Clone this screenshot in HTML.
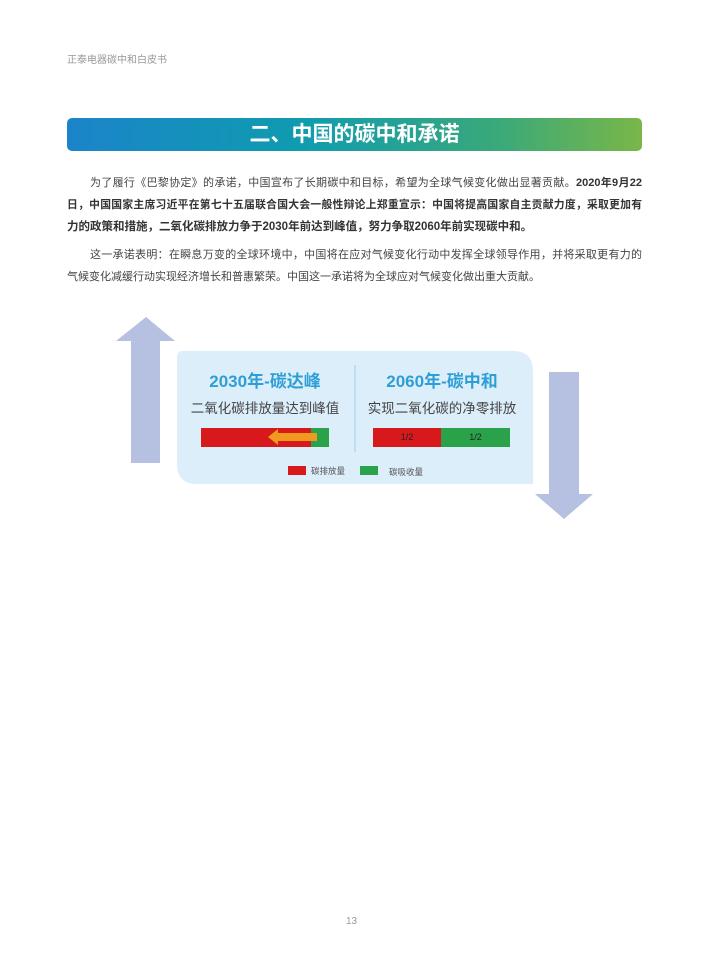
<!DOCTYPE html>
<html><head><meta charset="utf-8"><style>
body{margin:0;width:710px;height:963px;background:#fff;position:relative;font-family:"Liberation Sans","Noto Sans CJK SC",sans-serif;overflow:hidden}
.a{position:absolute}
.ln{position:absolute;left:67px;width:575px;font-size:11px;color:#444;text-align:justify;text-align-last:justify;white-space:nowrap;line-height:16px}
.b{font-weight:bold;color:#333}
</style></head><body>
<div class="a" style="left:67px;top:51px;font-size:10px;color:#999">正泰电器碳中和白皮书</div>
<div class="a" style="left:67px;top:118px;width:575px;height:33px;border-radius:5px;background:linear-gradient(90deg,#1b84c9 0%,#0f9bb0 40%,#3aa97a 75%,#7ab648 100%);color:#fff;font-size:21px;font-weight:bold;text-align:center;line-height:33px">二、中国的碳中和承诺</div>
<div class="ln" style="top:175px;left:90px;width:552px">为了履行《巴黎协定》的承诺，中国宣布了长期碳中和目标，希望为全球气候变化做出显著贡献。<span class="b">2020年9月22</span></div>
<div class="ln b" style="top:197px;font-size:10.8px">日，中国国家主席习近平在第七十五届联合国大会一般性辩论上郑重宣示：中国将提高国家自主贡献力度，采取更加有</div>
<div class="ln b" style="top:219px;text-align-last:left;font-size:11.5px">力的政策和措施，二氧化碳排放力争于2030年前达到峰值，努力争取2060年前实现碳中和。</div>
<div class="ln" style="top:247px;left:90px;width:552px">这一承诺表明：在瞬息万变的全球环境中，中国将在应对气候变化行动中发挥全球领导作用，并将采取更有力的</div>
<div class="ln" style="top:269px;text-align-last:left;font-size:11px">气候变化减缓行动实现经济增长和普惠繁荣。中国这一承诺将为全球应对气候变化做出重大贡献。</div>
<svg class="a" style="left:0;top:0" width="710" height="963">
<polygon points="146,317 175,341 160,341 160,463 131,463 131,341 116,341" fill="#b6c1e1"/>
<polygon points="549,372 579,372 579,494 593,494 564,519 535,494 549,494" fill="#b6c1e1"/>
<path d="M183,351 H513 Q533,351 533,371 V484 H197 Q177,484 177,464 V357 Q177,351 183,351 Z" fill="#dceefa"/>
<line x1="355" y1="365" x2="355" y2="452" stroke="#b8d8ee" stroke-width="1.5"/>
<rect x="201" y="428" width="110" height="19" fill="#d7191c"/>
<rect x="311" y="428" width="18" height="19" fill="#2aa24a"/>
<polygon points="268,437 278,429 278,433 317,433 317,441 278,441 278,445" fill="#ef9a1f"/>
<rect x="373" y="428" width="68" height="19" fill="#d7191c"/>
<rect x="441" y="428" width="69" height="19" fill="#2aa24a"/>
<rect x="288" y="466" width="18" height="9" fill="#d7191c"/>
<rect x="360" y="466" width="18" height="9" fill="#2aa24a"/>
</svg>
<div class="a" style="left:185px;top:367px;width:160px;text-align:center;font-size:17px;font-weight:bold;color:#2e9fd6">2030年-碳达峰</div>
<div class="a" style="left:185px;top:397px;width:160px;text-align:center;font-size:13.5px;color:#444">二氧化碳排放量达到峰值</div>
<div class="a" style="left:362px;top:367px;width:160px;text-align:center;font-size:17px;font-weight:bold;color:#2e9fd6">2060年-碳中和</div>
<div class="a" style="left:362px;top:397px;width:160px;text-align:center;font-size:13.5px;color:#444">实现二氧化碳的净零排放</div>
<div class="a" style="left:373px;top:432px;width:68px;text-align:center;font-size:9px;color:#222">1/2</div>
<div class="a" style="left:441px;top:432px;width:69px;text-align:center;font-size:9px;color:#222">1/2</div>
<div class="a" style="left:311px;top:465px;font-size:8.5px;color:#555">碳排放量</div>
<div class="a" style="left:389px;top:466px;font-size:8.5px;color:#555">碳吸收量</div>
<div class="a" style="left:346px;top:916px;font-size:10px;color:#999">13</div>
</body></html>
